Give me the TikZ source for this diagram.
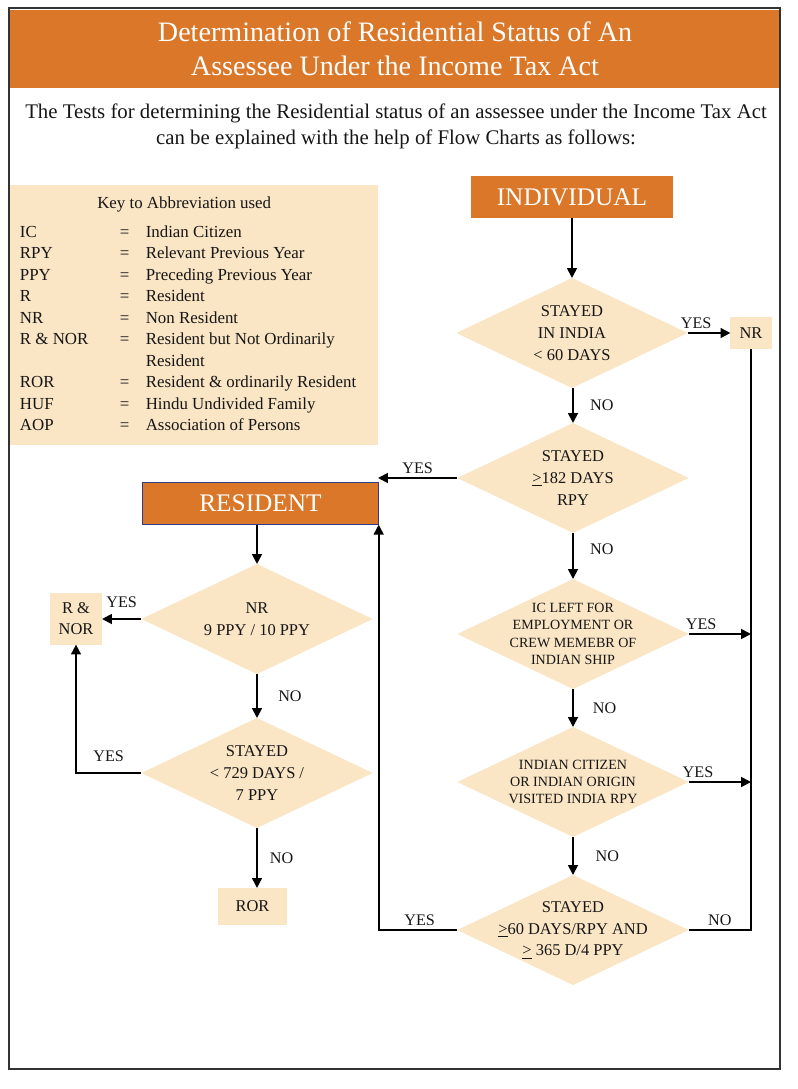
\documentclass[tikz,border=0pt]{standalone}
\usepackage{fontspec}
\setmainfont{Liberation Serif}
\usetikzlibrary{arrows.meta,calc,positioning,shapes.geometric}
\definecolor{TaxOrange}{HTML}{DA7729}
\definecolor{TaxPale}{HTML}{FAE5C5}
\definecolor{TaxInk}{HTML}{161616}
\definecolor{TaxFrame}{HTML}{333333}
\definecolor{TaxNavy}{HTML}{2E3A8C}
\tikzset{
  banner/.style={
    fill=TaxOrange,
    text=white,
    inner sep=0pt,
    align=center,
    font=\fontsize{20}{24}\selectfont
  },
  headbox/.style={
    fill=TaxOrange,
    text=white,
    inner sep=0pt,
    minimum height=1.03cm,
    font=\fontsize{18}{20}\selectfont
  },
  decision/.style={
    diamond,
    aspect=2.1,
    fill=TaxPale,
    text=TaxInk,
    inner sep=-8pt,
    outer sep=0pt,
    minimum width=5.78cm,
    minimum height=2.75cm,
    align=center,
    font=\fontsize{11.7}{15.5}\selectfont
  },
  outcome/.style={
    fill=TaxPale,
    text=TaxInk,
    inner sep=0pt,
    outer sep=0pt,
    align=center,
    font=\fontsize{11.7}{15}\selectfont
  },
  flow/.style={
    -{Triangle[length=7pt,width=7pt]},
    draw=black,
    line width=1.3pt
  },
  link/.style={
    draw=black,
    line width=1.3pt
  },
  tag/.style={
    font=\fontsize{11.5}{13}\selectfont,
    text=TaxInk,
    inner sep=2.5pt
  }
}

\begin{document}
\begin{tikzpicture}[x=0.025cm,y=-0.025cm]
  \useasboundingbox (0,0) rectangle (797,1089);

  % Header band and the lead-in sentence.
  \node[banner,minimum width=19.25cm,minimum height=1.95cm] (title) at (395,49)
    {Determination of Residential Status of An\\
     Assessee Under the Income Tax Act};
  \node[align=center,text=TaxInk,font=\fontsize{14.8}{18.5}\selectfont] (lead) at (396,126)
    {The Tests for determining the Residential status of an assessee under the Income Tax Act\\
     can be explained with the help of Flow Charts as follows:};

  % Key to the abbreviations.
  \node[fill=TaxPale,text=TaxInk,anchor=north west,minimum width=9.2cm,
        minimum height=6.5cm,inner sep=0pt,font=\fontsize{12}{15.3}\selectfont]
    (key) at (10,185)
    {\begin{tabular}{@{}p{71pt}@{}p{18.5pt}@{}p{158.5pt}@{}}
       \multicolumn{3}{@{}l@{}}{\hspace{55pt}Key to Abbreviation used}\\[5pt]
       IC      & = & Indian Citizen\\
       RPY     & = & Relevant Previous Year\\
       PPY     & = & Preceding Previous Year\\
       R       & = & Resident\\
       NR      & = & Non Resident\\
       R \& NOR & = & Resident but Not Ordinarily\\
               &   & Resident\\
       ROR     & = & Resident \& ordinarily Resident\\
       HUF     & = & Hindu Undivided Family\\
       AOP     & = & Association of Persons
     \end{tabular}};

  % Right column: the tests for an individual.
  \node[headbox,minimum width=5.03cm] (ind) at (572,197) {INDIVIDUAL};
  \node[decision] (d1) at (572,333) {STAYED\\IN INDIA\\< 60 DAYS};
  \node[outcome,minimum width=1.03cm,minimum height=0.8cm] (nr) at (751,333) {NR};
  \node[decision] (d2) at (573,478) {STAYED\\\underline{>}182 DAYS\\RPY};
  \node[decision,font=\fontsize{10}{12.3}\selectfont] (d3) at (573,634)
    {IC LEFT FOR\\EMPLOYMENT OR\\CREW MEMEBR OF\\INDIAN SHIP};
  \node[decision,font=\fontsize{10}{12.3}\selectfont] (d4) at (573,782)
    {INDIAN CITIZEN\\OR INDIAN ORIGIN\\VISITED INDIA RPY};
  \node[decision] (d5) at (573,930)
    {STAYED\\\underline{>}60 DAYS/RPY AND\\\underline{>} 365 D/4 PPY};
  \coordinate (toRes) at (378,478);

  \draw[flow] (ind.south) -- (d1.north);
  \draw[flow] (d1.east) -- node[tag,above,pos=0.2] {YES} (nr.west);
  \draw[flow] (d1.south -| d2.north) -- node[tag,right=9pt] {NO} (d2.north);
  \draw[flow] (d2.west) -- node[tag,above] {YES} (toRes);
  \draw[flow] (d2.south) -- node[tag,right=9pt,pos=0.35] {NO} (d3.north);
  \draw[flow] (d3.east) -- node[tag,above,pos=0.2] {YES} (d3.east -| nr.south);
  \draw[flow] (d3.south) -- node[tag,right=11pt] {NO} (d4.north);
  \draw[flow] (d4.east) -- node[tag,above,pos=0.15] {YES} (d4.east -| nr.south);
  \draw[flow] (d4.south) -- node[tag,right=13pt] {NO} (d5.north);
  \draw[link] (d5.east) -- node[tag,above,pos=0.5] {NO} (d5.east -| nr.south) -- (nr.south);

  % Left column: a resident split into R & NOR and ROR.
  \node[headbox,minimum width=5.88cm,draw=TaxNavy,line width=0.8pt] (res) at (260.5,503.5) {RESIDENT};
  \node[decision] (d6) at (257,619) {NR\\9 PPY / 10 PPY};
  \node[outcome,minimum width=1.3cm,minimum height=1.28cm] (rnor) at (76,619) {R \&\\NOR};
  \node[decision] (d7) at (257,773) {STAYED\\< 729 DAYS /\\7 PPY};
  \node[outcome,minimum width=1.73cm,minimum height=0.93cm] (ror) at (252.5,906.5) {ROR};

  \draw[flow] (d5.west) -- node[tag,above,pos=0.48] {YES} (d5.west -| res.south east) -- (res.south east);
  \draw[flow] (res.south -| d6.north) -- (d6.north);
  \draw[flow] (d6.west) -- node[tag,above=5pt] {YES} (rnor.east);
  \draw[flow] (d6.south) -- node[tag,right=12pt] {NO} (d7.north);
  \draw[flow] (d7.west) -- node[tag,above=5pt,pos=0.5] {YES} (d7.west -| rnor.south) -- (rnor.south);
  \draw[flow] (d7.south) -- node[tag,right=6pt] {NO} (d7.south |- ror.north);

  % Outer frame on top of the band.
  \draw[TaxFrame,line width=1.2pt] (9,8) rectangle (780,1069);
\end{tikzpicture}
\end{document}
